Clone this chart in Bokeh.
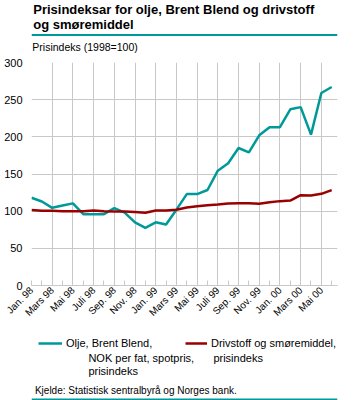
import math
from bokeh.plotting import figure
from bokeh.layouts import column
from bokeh.models import (Range1d, FixedTicker, Label, BoxAnnotation, Legend, LegendItem,
                          ColumnDataSource)
from bokeh.embed import file_html
from bokeh.resources import INLINE

months = ["Jan. 98", "Feb. 98", "Mars 98", "Apr. 98", "Mai 98", "Juni 98", "Juli 98", "Aug. 98",
          "Sep. 98", "Okt. 98", "Nov. 98", "Des. 98",
          "Jan. 99", "Feb. 99", "Mars 99", "Apr. 99", "Mai 99", "Juni 99", "Juli 99", "Aug. 99",
          "Sep. 99", "Okt. 99", "Nov. 99", "Des. 99",
          "Jan. 00", "Feb. 00", "Mars 00", "Apr. 00", "Mai 00", "Juni 00"]
oil = [118, 113, 104.5, 107.5, 110.5, 96, 96, 96, 104, 98, 85, 77.5, 85, 82, 102, 123, 123,
       128.5, 154.5, 164.5, 185, 179, 202, 213, 213, 237, 240, 203, 259, 267]
fuel = [101.5, 100.5, 100.5, 100, 100, 100, 101, 100, 99.5, 99.5, 99, 98, 101, 101, 102, 105,
        106.5, 108, 109, 110.3, 110.8, 110.8, 110, 112, 113.5, 114.3, 121.5, 121, 123.3, 128.3]
y_ticks = [0, 50, 100, 150, 200, 250, 300]

title_lines = ["Prisindeksar for olje, Brent Blend og drivstoff", "og smøremiddel"]
y_title = "Prisindeks (1998=100)"
oil_name = ["Olje, Brent Blend,", "NOK per fat, spotpris,", "prisindeks"]
fuel_name = ["Drivstoff og smøremiddel,", "prisindeks"]
source_text = "Kjelde: Statistisk sentralbyrå og Norges bank."

TEAL = "#009999"
RED = "#990000"
GRID = "#c8c8c8"
FONT = "Liberation Sans"
W = 355
LEG_FS = "11px"


def blank_fig(h):
    f = figure(width=W, height=h, output_backend="svg", toolbar_location=None,
               x_range=Range1d(0, W), y_range=Range1d(0, h),
               x_axis_location=None, y_axis_location=None,
               min_border=0, margin=(0, 0, 0, 0))
    f.grid.visible = False
    f.outline_line_color = None
    f.background_fill_color = "white"
    f.border_fill_color = "white"
    return f


def text(f, s, x, y, size, bold=False):
    f.add_layout(Label(x=x, y=y, text=s, text_font=FONT, text_font_size=size,
                       text_font_style="bold" if bold else "normal", text_color="black",
                       text_baseline="top", text_align="left"))


# ---- header: page y 0..56 (data y = 56 - page y)
H0 = 56
head = blank_fig(H0)
text(head, title_lines[0], 2, H0 - 1, "13px", bold=True)
text(head, title_lines[1], 2, H0 - 16, "13px", bold=True)
head.add_layout(BoxAnnotation(left=0, right=W, bottom=H0 - 35.5, top=H0 - 33.5,
                              fill_color=TEAL, fill_alpha=1, line_color=None))
text(head, y_title, 1, H0 - 40, "10.5px")

# ---- chart: page y 56..326
src = ColumnDataSource(dict(x=list(range(len(months))), oil=oil, fuel=fuel))
idx = list(range(len(months)))
p = figure(width=W, height=270, output_backend="svg", toolbar_location=None,
           x_range=Range1d(0, 29.56), y_range=Range1d(0, 300),
           min_border_left=31, min_border_right=18, min_border_top=6, min_border_bottom=41,
           margin=(0, 0, 0, 0))
p.outline_line_color = None
p.background_fill_color = "white"
p.border_fill_color = "white"

r_oil = p.line("x", "oil", source=src, line_color=TEAL, line_width=2.5)
r_fuel = p.line("x", "fuel", source=src, line_color=RED, line_width=2.5)

p.xaxis.ticker = FixedTicker(ticks=idx)
p.xaxis.major_label_overrides = {i: (months[i] if i % 2 == 0 else "") for i in idx}
p.xaxis.major_label_orientation = math.pi / 4
p.xaxis.major_label_text_font = FONT
p.xaxis.major_label_text_font_size = "10px"
p.xaxis.major_label_text_color = "black"
p.xaxis.major_label_standoff = 3
p.xaxis.major_tick_in = 5
p.xaxis.major_tick_out = 0
p.xaxis.major_tick_line_color = GRID
p.xaxis.minor_tick_line_color = None
p.xaxis.axis_line_color = GRID
p.xgrid.ticker = FixedTicker(ticks=[i for i in idx if i % 2 == 0])
p.xgrid.grid_line_color = GRID

p.yaxis.ticker = FixedTicker(ticks=y_ticks)
p.yaxis.major_label_text_font = FONT
p.yaxis.major_label_text_font_size = "11px"
p.yaxis.major_label_text_color = "black"
p.yaxis.major_label_standoff = 9
p.yaxis.major_tick_in = 0
p.yaxis.major_tick_out = 0
p.yaxis.minor_tick_line_color = None
p.yaxis.axis_line_color = None
p.ygrid.ticker = FixedTicker(ticks=y_ticks)
p.ygrid.grid_line_color = GRID

# ---- footer: page y 326..400 (data y = 400 - page y)
H2 = 74
foot = blank_fig(H2)
# hidden copies of the two series' styles, only used to draw the legend samples
k_oil = foot.line(x=[-10, -5], y=[-10, -10], line_color=TEAL, line_width=2.5)
k_fuel = foot.line(x=[-10, -5], y=[-10, -10], line_color=RED, line_width=2.5)

LEG_SHIFT = 31  # the legend is drawn this far right of its nominal location


def make_legend(label, rend, x, gw):
    lg = Legend(items=[LegendItem(label=label, renderers=[rend])],
                orientation="horizontal", location=(x - LEG_SHIFT, 51),
                glyph_width=gw, glyph_height=12, label_standoff=4, spacing=0,
                padding=0, margin=0, border_line_color=None, background_fill_alpha=0,
                label_text_font=FONT, label_text_font_size=LEG_FS,
                label_text_color="black", label_height=12)
    foot.add_layout(lg)


make_legend(oil_name[0], k_oil, 38, 24)
make_legend(fuel_name[0], k_fuel, 185, 22)
text(foot, oil_name[1], 66, 400 - 351, LEG_FS)
text(foot, oil_name[2], 66, 400 - 364, LEG_FS)
text(foot, fuel_name[1], 211, 400 - 351, LEG_FS)

text(foot, source_text, 4, 400 - 384, "10px")
foot.add_layout(BoxAnnotation(left=0, right=W, bottom=0, top=2,
                              fill_color=TEAL, fill_alpha=1, line_color=None))

layout = column(head, p, foot, spacing=0)
open("out.html", "w").write(file_html(layout, INLINE))
